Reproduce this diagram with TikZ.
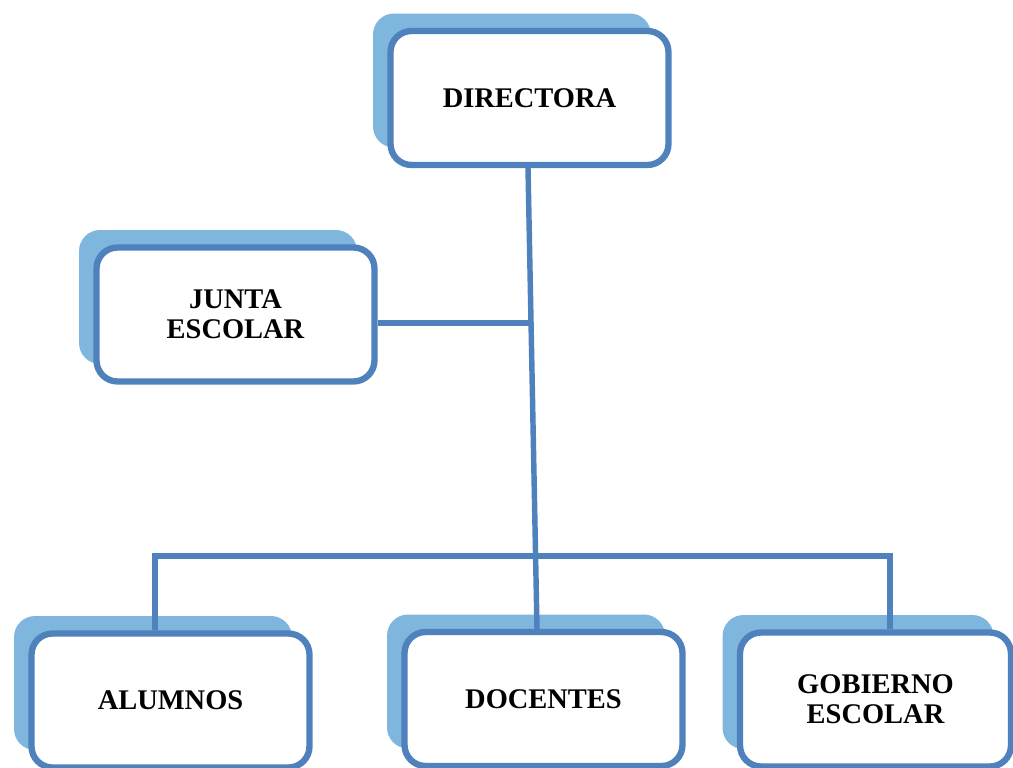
\documentclass[tikz,border=0pt]{standalone}
\usepackage{fontspec}
\setmainfont{Liberation Serif}
\usetikzlibrary{shadows}
\definecolor{boxblue}{HTML}{4F81BD}
\definecolor{shadeblue}{HTML}{7EB6DE}
\tikzset{
  orgbox/.style={draw=boxblue, line width=3.6pt, fill=white, rounded corners=0.42cm,
    minimum width=5.56cm, minimum height=2.68cm, inner sep=0pt, align=center,
    font=\fontsize{16.2}{17}\selectfont\bfseries,
    general shadow={fill=shadeblue, shadow xshift=-0.35cm, shadow yshift=0.35cm}},
  link/.style={draw=boxblue, line width=3.1pt}
}
\begin{document}
\begin{tikzpicture}[x=0.02cm, y=-0.02cm]
\useasboundingbox (0,0) rectangle (1013,767);
\clip (0,0) rectangle (1013,767);
\node[orgbox] (dir) at (529.5,98) {DIRECTORA};
\node[orgbox] (jun) at (235.5,314.5) {JUNTA\\ESCOLAR};
\node[orgbox] (alu) at (170.5,700.5) {ALUMNOS};
\node[orgbox] (doc) at (543.5,699) {DOCENTES};
\node[orgbox, minimum width=5.42cm] (gob) at (875.5,699.5) {GOBIERNO\\ESCOLAR};
\coordinate (jm) at (531.3,323);
\coordinate (bus) at (536,556);
\draw[link] ([xshift=-0.03cm]dir.south) -- ([xshift=-0.13cm]doc.north);
\draw[link] (jun.east |- jm) -- (jm);
\draw[link] ([xshift=-0.31cm]alu.north) |- (bus) -| ([xshift=0.29cm]gob.north);
\end{tikzpicture}
\end{document}
